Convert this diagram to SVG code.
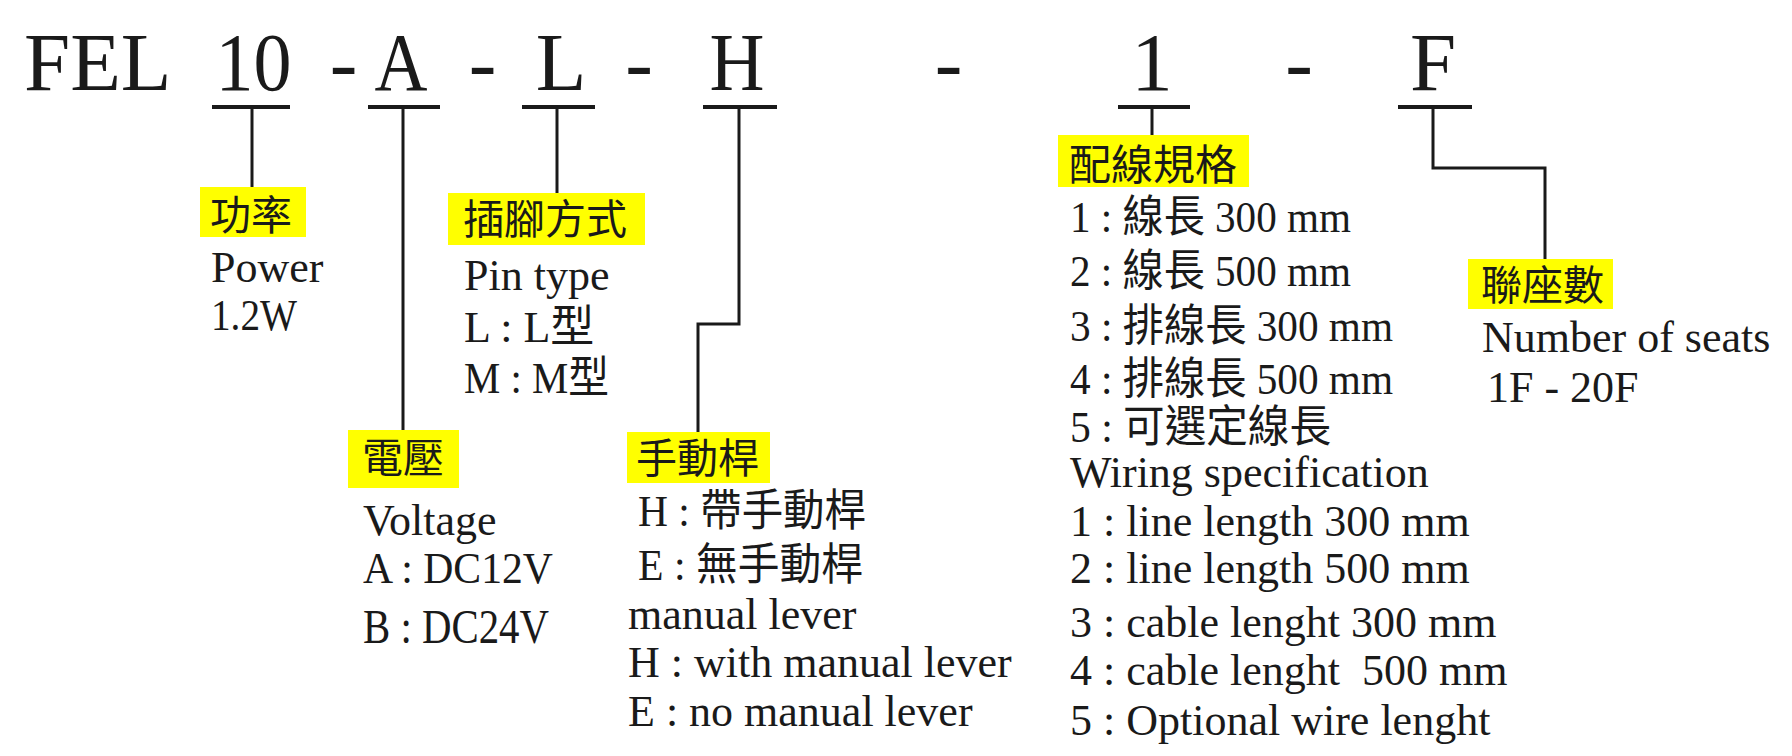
<svg xmlns="http://www.w3.org/2000/svg" width="1792" height="756" viewBox="0 0 1792 756">
<style>
.code{font-family:"Liberation Serif","Times New Roman",serif;font-size:83px;fill:#1a1a1a;text-anchor:middle}
.t{font-family:"Liberation Serif","Noto Sans CJK TC",serif;font-size:44px;fill:#1a1a1a}
.h{font-family:"Noto Sans CJK TC","Noto Sans CJK SC",sans-serif;font-size:41px;fill:#1a1a1a}
.box{fill:#ffff00}
.bar{stroke:#1a1a1a;stroke-width:4;fill:none}
.ln{stroke:#1a1a1a;stroke-width:3;fill:none;stroke-linejoin:miter}
</style>
<rect width="1792" height="756" fill="#ffffff"/>
<g id="code">
<text class="code" x="24" y="90" style="text-anchor:start">FEL</text>
<text class="code" x="253.5" y="90" textLength="76" lengthAdjust="spacingAndGlyphs">10</text>
<text class="code" x="343.5" y="90">-</text>
<text class="code" x="401" y="90" textLength="53" lengthAdjust="spacingAndGlyphs">A</text>
<text class="code" x="482.5" y="90">-</text>
<text class="code" x="561" y="90">L</text>
<text class="code" x="639" y="90">-</text>
<text class="code" x="737" y="90" textLength="55" lengthAdjust="spacingAndGlyphs">H</text>
<text class="code" x="948.5" y="90">-</text>
<text class="code" x="1152" y="90">1</text>
<text class="code" x="1299" y="90">-</text>
<text class="code" x="1433" y="90">F</text>
</g>
<g id="connectors">
<path class="bar" d="M212 107H290M368 107H440M522 107H595M703 107H777M1118 107H1190M1398 107H1472"/>
<path class="ln" d="M252 107V187"/>
<path class="ln" d="M403 107V430"/>
<path class="ln" d="M557 107V193"/>
<path class="ln" d="M739 107V324H698V432"/>
<path class="ln" d="M1152 107V135"/>
<path class="ln" d="M1433 107V168H1545V259"/>
</g>
<g id="power">
<rect class="box" x="200" y="187" width="106" height="50"/>
<text class="h" x="210" y="230">功率</text>
<text class="t" x="211" y="282">Power</text>
<text class="t" x="211" y="330" textLength="86" lengthAdjust="spacingAndGlyphs">1.2W</text>
</g>
<g id="voltage">
<rect class="box" x="348" y="430" width="111" height="58"/>
<text class="h" x="362" y="473">電壓</text>
<text class="t" x="363" y="535">Voltage</text>
<text class="t" x="363" y="583" textLength="190" lengthAdjust="spacingAndGlyphs">A : DC12V</text>
<text class="t" x="363" y="643" style="font-size:48px" textLength="186" lengthAdjust="spacingAndGlyphs">B : DC24V</text>
</g>
<g id="pin">
<rect class="box" x="448" y="193" width="197" height="52"/>
<text class="h" x="463" y="234">插腳方式</text>
<text class="t" x="464" y="290">Pin type</text>
<text class="t" x="464" y="342">L : L型</text>
<text class="t" x="464" y="393" textLength="145" lengthAdjust="spacingAndGlyphs">M : M型</text>
</g>
<g id="lever">
<rect class="box" x="627" y="432" width="143" height="51"/>
<text class="h" x="636" y="473">手動桿</text>
<text class="t" x="638" y="526" textLength="228" lengthAdjust="spacingAndGlyphs">H : 帶手動桿</text>
<text class="t" x="638" y="580" textLength="225" lengthAdjust="spacingAndGlyphs">E : 無手動桿</text>
<text class="t" x="628" y="629">manual lever</text>
<text class="t" x="628" y="677">H : with manual lever</text>
<text class="t" x="628" y="726">E : no manual lever</text>
</g>
<g id="wiring">
<rect class="box" x="1058" y="135" width="191" height="52"/>
<text class="h" x="1069" y="180" style="font-size:42px">配線規格</text>
<text class="t" x="1070" y="232" textLength="281" lengthAdjust="spacingAndGlyphs">1 : 線長 300 mm</text>
<text class="t" x="1070" y="286" textLength="281" lengthAdjust="spacingAndGlyphs">2 : 線長 500 mm</text>
<text class="t" x="1070" y="341" textLength="323" lengthAdjust="spacingAndGlyphs">3 : 排線長 300 mm</text>
<text class="t" x="1070" y="394" textLength="323" lengthAdjust="spacingAndGlyphs">4 : 排線長 500 mm</text>
<text class="t" x="1070" y="442" textLength="261" lengthAdjust="spacingAndGlyphs">5 : 可選定線長</text>
<text class="t" x="1070" y="487">Wiring specification</text>
<text class="t" x="1070" y="536">1 : line length 300 mm</text>
<text class="t" x="1070" y="583">2 : line length 500 mm</text>
<text class="t" x="1070" y="637">3 : cable lenght 300 mm</text>
<text class="t" x="1070" y="685" xml:space="preserve">4 : cable lenght  500 mm</text>
<text class="t" x="1070" y="735">5 : Optional wire lenght</text>
</g>
<g id="seats">
<rect class="box" x="1468" y="259" width="145" height="50"/>
<text class="h" x="1481" y="300">聯座數</text>
<text class="t" x="1482" y="352">Number of seats</text>
<text class="t" x="1487" y="402">1F - 20F</text>
</g>
</svg>
